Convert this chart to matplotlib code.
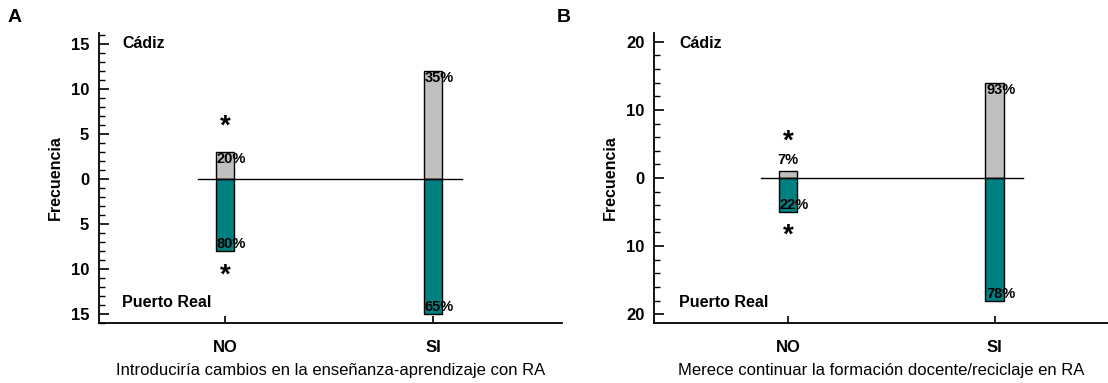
import matplotlib
matplotlib.use("Agg")
import matplotlib.pyplot as plt
from matplotlib.ticker import MultipleLocator, FuncFormatter

plt.rcParams['font.family'] = ['Liberation Sans', 'DejaVu Sans']

categories = ["NO", "SI"]
# Panel A
a_cadiz = [3, 12]
a_preal = [8, 15]
a_pct_cadiz = ["20%", "35%"]
a_pct_preal = ["80%", "65%"]
a_xlabel = "Introduciría cambios en la enseñanza-aprendizaje con RA"
# Panel B
b_cadiz = [1, 14]
b_preal = [5, 18]
b_pct_cadiz = ["7%", "93%"]
b_pct_preal = ["22%", "78%"]
b_xlabel = "Merece continuar la formación docente/reciclaje en RA"

GRAY = "#c0c0c0"
TEAL = "#008080"

W, H = 1108, 383
fig = plt.figure(figsize=(W / 100, H / 100), dpi=100)

def fx(px):
    return px / W

def fy(py):
    return 1 - py / H

axA = fig.add_axes([fx(99), fy(323), fx(562 - 99), fy(33) - fy(323)])
axB = fig.add_axes([fx(654), fy(323), fx(1108 - 654), fy(33) - fy(323)])


def draw(ax, cad, pre, pc, pp, ylim, major, minor, xlabel, xlim, zline,
         top_pct_inside, star_top, star_bot, letter, letter_x, cadiz_x):
    x = [1, 2]
    w = 0.09
    ax.bar(x, cad, width=w, color=GRAY, edgecolor="black", linewidth=1.0, zorder=2)
    ax.bar(x, [-v for v in pre], width=w, color=TEAL, edgecolor="black", linewidth=1.0, zorder=2)
    ax.plot(zline, [0, 0], color="black", linewidth=1.0, zorder=3)
    ax.set_xlim(*xlim)
    ax.set_ylim(*ylim)
    ax.yaxis.set_major_locator(MultipleLocator(major))
    ax.yaxis.set_minor_locator(MultipleLocator(minor))
    ax.yaxis.set_major_formatter(FuncFormatter(lambda v, p: f"{abs(int(round(v)))}"))
    ax.set_xticks(x)
    ax.set_xticklabels(categories, fontsize=12, fontweight="bold")
    for lab in ax.get_yticklabels():
        lab.set_fontweight("bold")
        lab.set_fontsize(12)
    ax.tick_params(axis="y", which="major", direction="in", length=7, width=1.2, pad=7)
    ax.tick_params(axis="y", which="minor", direction="in", length=4, width=1.0)
    ax.tick_params(axis="x", which="major", direction="in", length=5, width=1.2, pad=12)
    for s in ["top", "right"]:
        ax.spines[s].set_visible(False)
    for s in ["left", "bottom"]:
        ax.spines[s].set_linewidth(1.3)
    ax.set_xlabel(xlabel, fontsize=12, labelpad=6)
    ax.set_ylabel("Frecuencia", fontsize=11.5, fontweight="bold", labelpad=6)

    # percentage labels
    for i, xi in enumerate(x):
        if top_pct_inside[i]:
            ax.text(xi - w / 2 + 0.004, cad[i] - 0.05 * (ylim[1] / 16), pc[i], ha="left", va="top",
                    fontsize=10.5, fontweight="bold", zorder=4)
        else:
            ax.text(xi, cad[i] + 1.6, pc[i], ha="center", va="center",
                    fontsize=10.5, fontweight="bold", zorder=4)
        yb = -pre[i]
        ax.text(xi - w / 2 + 0.004, yb, pp[i], ha="left", va="bottom",
                fontsize=10.5, fontweight="bold", zorder=4)
    # asterisks
    ax.text(1, star_top, "*", ha="center", va="center", fontsize=20, fontweight="bold")
    ax.text(1, star_bot, "*", ha="center", va="center", fontsize=20, fontweight="bold")
    ax.text(cadiz_x, 0.965, "Cádiz", transform=ax.transAxes, fontsize=11.5,
            fontweight="bold", va="center", ha="left")
    ax.text(cadiz_x, 0.072, "Puerto Real", transform=ax.transAxes, fontsize=11.5,
            fontweight="bold", va="center", ha="left")
    fig.text(letter_x, fy(18), letter, fontsize=14, fontweight="bold", ha="left", va="center")


draw(axA, a_cadiz, a_preal, a_pct_cadiz, a_pct_preal, (-16.0, 16.2), 5, 1,
     a_xlabel, (0.394, 2.62), (0.87, 2.14), [True, True], 5.8, -10.75, "A", fx(8), 0.05)
draw(axB, b_cadiz, b_preal, b_pct_cadiz, b_pct_preal, (-21.3, 21.3), 10, 2,
     b_xlabel, (0.35, 2.55), (0.87, 2.14), [False, True], 5.35, -8.45, "B", fx(557), 0.055)

fig.savefig("out.png", dpi=100)
